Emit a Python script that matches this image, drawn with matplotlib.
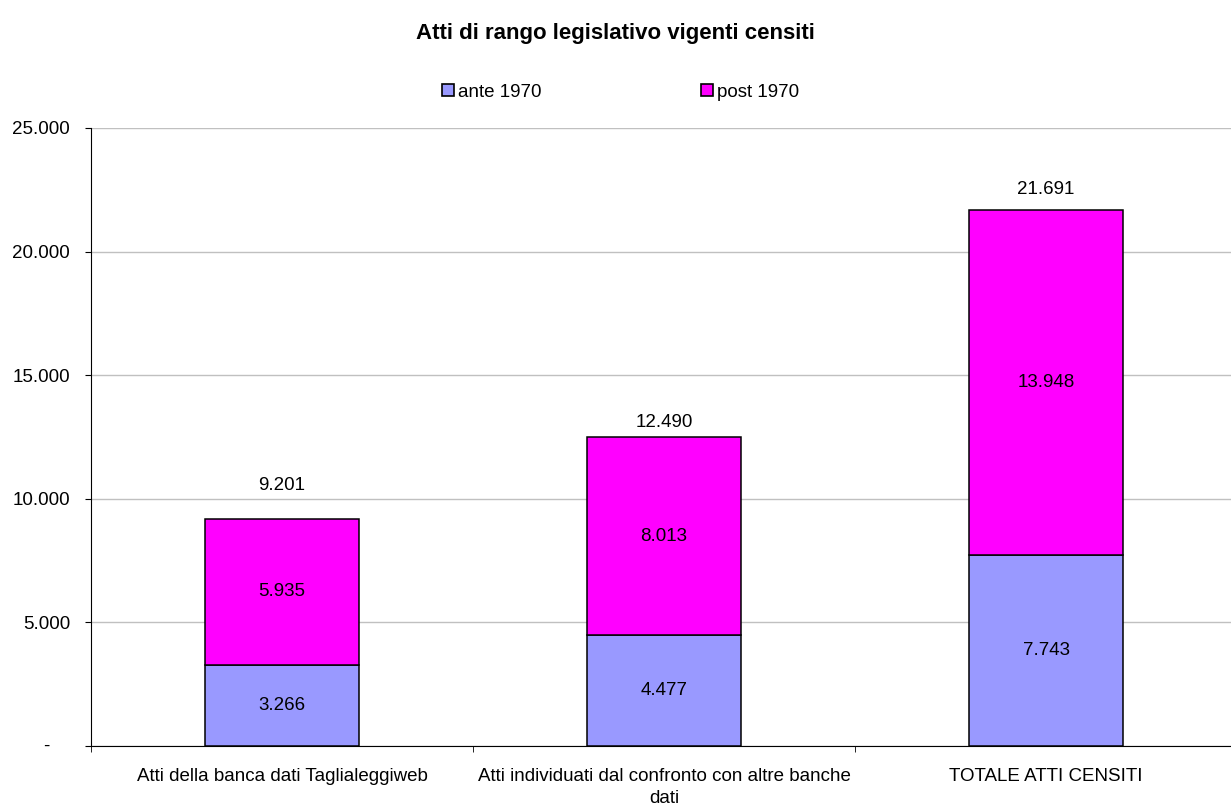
import matplotlib.pyplot as plt
import numpy as np
from matplotlib.patches import Patch

plt.rcParams['font.family'] = ['Liberation Sans', 'DejaVu Sans']

# Dati
categorie = ['Atti della banca dati Taglialeggiweb',
             'Atti individuati dal confronto con altre banche\ndati',
             'TOTALE ATTI CENSITI']
ante_1970 = [3266, 4477, 7743]
post_1970 = [5935, 8013, 13948]
totali = [9201, 12490, 21691]
tick_y = [0, 5000, 10000, 15000, 20000, 25000]
etichette_y = ['', '5.000', '10.000', '15.000', '20.000', '25.000']

# distanza (in punti) delle etichette dei totali sopra le barre
scosta_tot = [23.8, 10.5, 14.4]

def fmt(v):
    return f'{v:,}'.replace(',', '.')

fs = 13.5
fig = plt.figure(figsize=(12.31, 8.08), dpi=100)
ax = fig.add_axes([0.0739, 0.0767, 0.931, 0.765])

x = np.arange(len(categorie))
w = 0.403
ax.bar(x, ante_1970, w, color='#9999FF', edgecolor='black', linewidth=1.1, zorder=3)
ax.bar(x, post_1970, w, bottom=ante_1970, color='#FF00FF', edgecolor='black', linewidth=1.1, zorder=3)

for i in range(len(categorie)):
    ax.text(x[i], ante_1970[i] / 2, fmt(ante_1970[i]), ha='center', va='center', fontsize=fs, zorder=4)
    ax.text(x[i], ante_1970[i] + post_1970[i] / 2, fmt(post_1970[i]), ha='center', va='center', fontsize=fs, zorder=4)
    ax.annotate(fmt(totali[i]), (x[i], totali[i]), xytext=(0, scosta_tot[i]), textcoords='offset points',
                ha='center', va='center', fontsize=fs)

ax.set_xlim(-0.5, 2.5)
ax.set_ylim(0, 25000)
ax.set_yticks(tick_y)
ax.set_yticklabels(etichette_y, fontsize=fs)
ax.tick_params(axis='y', length=4.3, pad=10.8, color='black')
# zero mostrato come trattino (formato contabile)
ax.text(-0.0393, 0, '-', transform=ax.get_yaxis_transform(), ha='center', va='center', fontsize=fs)

ax.set_xticks(x)
ax.set_xticklabels(categorie, fontsize=fs, linespacing=1.35)
ax.tick_params(axis='x', length=0, pad=16)
ax.set_xticks([-0.5, 0.5, 1.5, 2.5], minor=True)
ax.tick_params(axis='x', which='minor', length=4, color='black')

ax.grid(axis='y', color='#C0C0C0', linewidth=1, zorder=0)
ax.spines['top'].set_visible(False)
ax.spines['right'].set_visible(False)
ax.spines['left'].set_color('black')
ax.spines['bottom'].set_color('black')

fig.text(0.5, 0.959, 'Atti di rango legislativo vigenti censiti', ha='center', va='center',
         fontsize=16, fontweight='bold')

handles = [Patch(facecolor='#9999FF', edgecolor='black', linewidth=1.2),
           Patch(facecolor='#FF00FF', edgecolor='black', linewidth=1.2)]
fig.legend(handles, ['ante 1970', 'post 1970'], loc='center', bbox_to_anchor=(0.504, 0.886),
           ncol=2, frameon=False, fontsize=fs, handlelength=0.64, handleheight=0.64,
           handletextpad=0.2, columnspacing=8.5, borderpad=0, borderaxespad=0)

fig.savefig('out.png', dpi=100)
